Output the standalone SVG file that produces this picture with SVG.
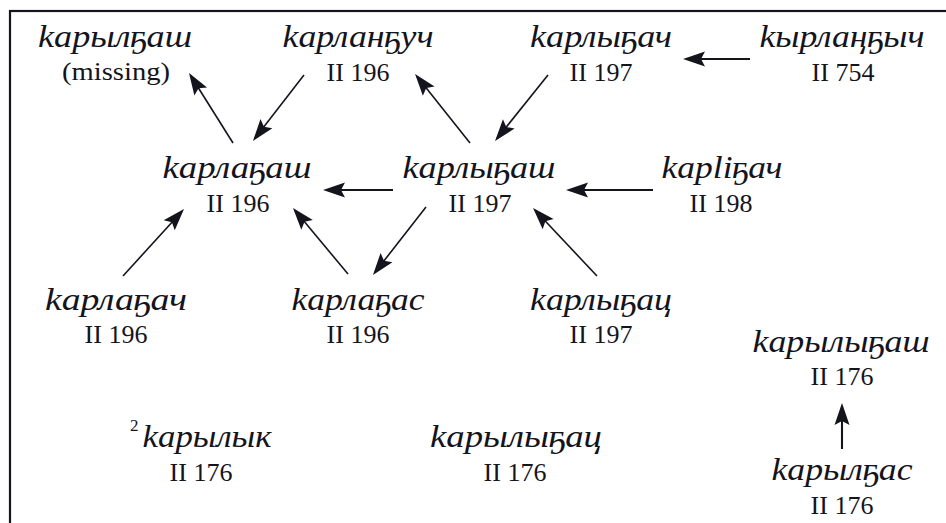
<svg xmlns="http://www.w3.org/2000/svg" width="946" height="523" viewBox="0 0 946 523">
  <style>
    .w { font-family: "Liberation Serif", "DejaVu Serif", serif; font-style: italic; font-size: 32px; fill: #14141c; text-anchor: middle; }
    .r { font-family: "Liberation Serif", "DejaVu Serif", serif; font-size: 26px; fill: #14141c; text-anchor: middle; }
    .sup { font-family: "Liberation Serif", "DejaVu Serif", serif; font-size: 17px; fill: #14141c; }
    .c { stroke: #14141c; stroke-width: 1.6; fill: none; marker-end: url(#ah); }
    .h { stroke-width: 2.1; }
  </style>
  <defs>
    <marker id="ah" markerUnits="userSpaceOnUse" markerWidth="30" markerHeight="20" viewBox="-20 -10 30 20" refX="0" refY="0" orient="auto" overflow="visible">
      <path d="M3,0 L-19,-7.5 L-15,0 L-19,7.5 Z" fill="#14141c"/>
    </marker>
  </defs>

  <rect x="10" y="11" width="950" height="530" fill="#ffffff" stroke="#14141c" stroke-width="2.2"/>

  <g id="n-karylgash">
    <text class="w" x="115" y="47" textLength="154" lengthAdjust="spacingAndGlyphs">kарылҕаш</text>
    <text class="r" x="116" y="80" textLength="108" lengthAdjust="spacingAndGlyphs">(missing)</text>
  </g>
  <g id="n-karlanguch">
    <text class="w" x="358" y="47" textLength="151" lengthAdjust="spacingAndGlyphs">kарланҕуч</text>
    <text class="r" x="358" y="81">II 196</text>
  </g>
  <g id="n-karlygach">
    <text class="w" x="601" y="47" textLength="142" lengthAdjust="spacingAndGlyphs">kарлыҕач</text>
    <text class="r" x="601" y="81">II 197</text>
  </g>
  <g id="n-kyrlangych">
    <text class="w" x="842" y="47" textLength="165" lengthAdjust="spacingAndGlyphs">kырлаңҕыч</text>
    <text class="r" x="843" y="81">II 754</text>
  </g>

  <g id="n-karlagash">
    <text class="w" x="237" y="178" textLength="149" lengthAdjust="spacingAndGlyphs">kарлаҕаш</text>
    <text class="r" x="238" y="212">II 196</text>
  </g>
  <g id="n-karlygash">
    <text class="w" x="479" y="178" textLength="153" lengthAdjust="spacingAndGlyphs">kарлыҕаш</text>
    <text class="r" x="480" y="212">II 197</text>
  </g>
  <g id="n-karligach">
    <text class="w" x="722" y="178" textLength="121" lengthAdjust="spacingAndGlyphs">kарlіҕач</text>
    <text class="r" x="721" y="212">II 198</text>
  </g>

  <g id="n-karlagach">
    <text class="w" x="116" y="310" textLength="142" lengthAdjust="spacingAndGlyphs">kарлаҕач</text>
    <text class="r" x="116" y="343">II 196</text>
  </g>
  <g id="n-karlagas">
    <text class="w" x="358" y="310" textLength="133" lengthAdjust="spacingAndGlyphs">kарлаҕас</text>
    <text class="r" x="358" y="343">II 196</text>
  </g>
  <g id="n-karlygats">
    <text class="w" x="601" y="310" textLength="142" lengthAdjust="spacingAndGlyphs">kарлыҕац</text>
    <text class="r" x="601" y="343">II 197</text>
  </g>

  <g id="n-karylygash">
    <text class="w" x="841" y="352" textLength="177" lengthAdjust="spacingAndGlyphs">kарылыҕаш</text>
    <text class="r" x="842" y="385">II 176</text>
  </g>
  <g id="n-karylgas">
    <text class="w" x="842" y="480" textLength="141" lengthAdjust="spacingAndGlyphs">kарылҕас</text>
    <text class="r" x="842" y="514">II 176</text>
  </g>

  <g id="n-karylyk">
    <text class="sup" x="130" y="431">2</text>
    <text class="w" x="207" y="447" textLength="129" lengthAdjust="spacingAndGlyphs">kарылык</text>
    <text class="r" x="201" y="481">II 176</text>
  </g>
  <g id="n-karylygats">
    <text class="w" x="516" y="447" textLength="172" lengthAdjust="spacingAndGlyphs">kарылыҕац</text>
    <text class="r" x="515" y="481">II 176</text>
  </g>

  <g id="connectors">
    <line class="c h" x1="750" y1="59" x2="686" y2="59"/>
    <line class="c" x1="233" y1="143" x2="190.6" y2="75.5"/>
    <line class="c" x1="304" y1="75" x2="254.8" y2="138.6"/>
    <line class="c" x1="470" y1="143" x2="416.9" y2="76.3"/>
    <line class="c" x1="548" y1="75" x2="496.9" y2="138.7"/>
    <line class="c h" x1="393" y1="190" x2="326" y2="190"/>
    <line class="c h" x1="653" y1="190" x2="569" y2="190"/>
    <line class="c" x1="123" y1="276" x2="182" y2="211.2"/>
    <line class="c" x1="348" y1="274" x2="294.9" y2="210.3"/>
    <line class="c" x1="426" y1="207" x2="374.8" y2="272.6"/>
    <line class="c" x1="597" y1="276" x2="535.1" y2="210.2"/>
    <line class="c h" x1="842" y1="449" x2="842" y2="406"/>
  </g>
</svg>
